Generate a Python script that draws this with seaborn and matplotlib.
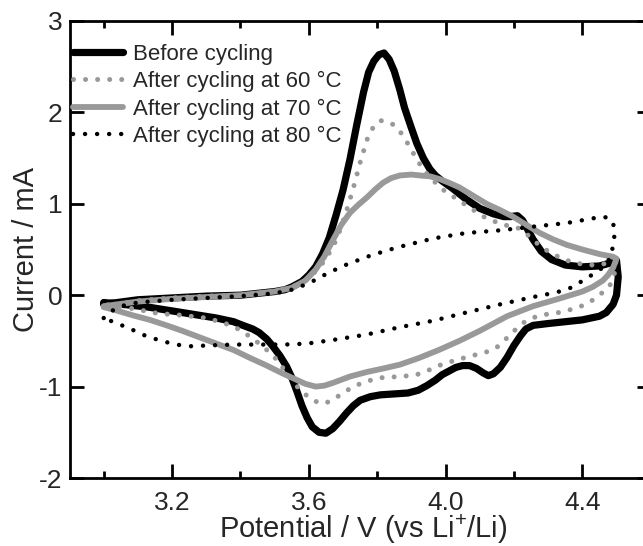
import numpy as np
import pandas as pd
import matplotlib
matplotlib.use("Agg")
import matplotlib.pyplot as plt
import seaborn as sns
from matplotlib.ticker import FixedLocator

sns.set_style("ticks")
plt.rcParams["font.family"] = ["Liberation Sans", "DejaVu Sans"]
plt.rcParams["mathtext.fontset"] = "custom"
plt.rcParams["mathtext.rm"] = "Liberation Sans"
plt.rcParams["mathtext.it"] = "Liberation Sans"

labels = ["Before cycling", "After cycling at 60 \u00b0C",
          "After cycling at 70 \u00b0C", "After cycling at 80 \u00b0C"]

# Before cycling (anodic sweep then cathodic sweep)
v_before = [3.00, 3.10, 3.20, 3.30, 3.40, 3.45, 3.50, 3.53, 3.55, 3.58, 3.60, 3.62, 3.64, 3.66,
            3.68, 3.70, 3.72, 3.74, 3.76, 3.775, 3.79, 3.805, 3.82, 3.835, 3.85, 3.866, 3.88, 3.90,
            3.916, 3.935, 3.954, 3.97, 3.99, 4.02, 4.06, 4.10, 4.14, 4.17, 4.19, 4.21, 4.225, 4.24,
            4.256, 4.28, 4.31, 4.35, 4.40, 4.45, 4.48, 4.50,
            4.505, 4.50, 4.49, 4.47, 4.45, 4.40, 4.35, 4.30, 4.256, 4.235, 4.22, 4.20, 4.18, 4.16,
            4.14, 4.125, 4.11, 4.09, 4.07, 4.05, 4.03, 4.01, 3.99, 3.97, 3.945, 3.92, 3.89, 3.85,
            3.81, 3.78, 3.75, 3.73, 3.71, 3.69, 3.67, 3.65, 3.63, 3.61, 3.595, 3.58, 3.565, 3.55,
            3.535, 3.515, 3.495, 3.477, 3.455, 3.436, 3.40, 3.38, 3.33, 3.28, 3.23, 3.18, 3.13,
            3.08, 3.00]
i_before = [-0.10, -0.05, -0.03, -0.01, 0.00, 0.02, 0.04, 0.06, 0.09, 0.15, 0.22, 0.31, 0.45, 0.63,
            0.88, 1.15, 1.48, 1.86, 2.22, 2.44, 2.56, 2.63, 2.65, 2.58, 2.45, 2.25, 2.05, 1.83,
            1.66, 1.50, 1.38, 1.31, 1.25, 1.17, 1.05, 0.95, 0.89, 0.86, 0.86, 0.87, 0.82, 0.72,
            0.61, 0.48, 0.39, 0.33, 0.31, 0.32, 0.35, 0.38,
            0.20, 0.00, -0.10, -0.19, -0.23, -0.27, -0.29, -0.31, -0.33, -0.37, -0.44, -0.55, -0.68, -0.79,
            -0.86, -0.88, -0.85, -0.80, -0.77, -0.77, -0.79, -0.83, -0.87, -0.93, -0.99, -1.04, -1.07, -1.08,
            -1.09, -1.11, -1.15, -1.21, -1.29, -1.38, -1.46, -1.51, -1.50, -1.44, -1.34, -1.21, -1.05, -0.90,
            -0.78, -0.66, -0.56, -0.48, -0.41, -0.37, -0.32, -0.29, -0.25, -0.22, -0.19, -0.16, -0.13,
            -0.11, -0.08]

# After cycling at 60 C
v_60 = [3.00, 3.10, 3.20, 3.30, 3.40, 3.50, 3.55, 3.58, 3.61, 3.64, 3.67, 3.69, 3.71, 3.73, 3.75,
        3.77, 3.79, 3.81, 3.83, 3.85, 3.865, 3.88, 3.90, 3.92, 3.94, 3.96, 3.99, 4.03, 4.07, 4.12,
        4.17, 4.21, 4.24, 4.27, 4.30, 4.34, 4.38, 4.43, 4.48, 4.50,
        4.495, 4.48, 4.45, 4.42, 4.385, 4.33, 4.276, 4.24, 4.217, 4.19, 4.165, 4.15, 4.13, 4.10,
        4.08, 4.03, 3.98, 3.945, 3.915, 3.87, 3.817, 3.77, 3.73, 3.70, 3.68, 3.65, 3.63, 3.61,
        3.58, 3.55, 3.525, 3.50, 3.466, 3.43, 3.40, 3.35, 3.30, 3.23, 3.16, 3.09, 3.02, 3.00]
i_60 = [-0.12, -0.06, -0.03, -0.01, 0.00, 0.04, 0.09, 0.14, 0.22, 0.35, 0.52, 0.70, 0.92, 1.17, 1.45,
        1.70, 1.85, 1.91, 1.90, 1.86, 1.80, 1.72, 1.59, 1.46, 1.35, 1.27, 1.16, 1.06, 0.96, 0.84,
        0.77, 0.74, 0.66, 0.56, 0.48, 0.40, 0.35, 0.33, 0.35, 0.36,
        0.25, 0.10, 0.00, -0.08, -0.14, -0.19, -0.22, -0.27, -0.33, -0.43, -0.52, -0.57, -0.61, -0.64,
        -0.66, -0.71, -0.77, -0.83, -0.87, -0.89, -0.90, -0.94, -1.00, -1.07, -1.12, -1.18, -1.18, -1.14,
        -1.06, -0.93, -0.80, -0.68, -0.56, -0.46, -0.38, -0.30, -0.25, -0.22, -0.20, -0.15, -0.11, -0.10]

# After cycling at 70 C
v_70 = [3.00, 3.10, 3.20, 3.30, 3.40, 3.50, 3.55, 3.59, 3.62, 3.645, 3.67, 3.695, 3.72, 3.745,
        3.77, 3.795, 3.817, 3.84, 3.866, 3.90, 3.925, 3.955, 3.983, 4.01, 4.04, 4.08, 4.12, 4.16,
        4.197, 4.236, 4.276, 4.315, 4.355, 4.40, 4.45, 4.49, 4.50,
        4.49, 4.475, 4.46, 4.43, 4.40, 4.33, 4.256, 4.18, 4.14, 4.10, 4.04, 3.98, 3.92, 3.866,
        3.82, 3.77, 3.72, 3.67, 3.645, 3.62, 3.59, 3.555, 3.52, 3.477, 3.43, 3.38, 3.33, 3.28,
        3.23, 3.184, 3.135, 3.085, 3.04, 3.00]
i_70 = [-0.12, -0.07, -0.04, -0.02, 0.00, 0.04, 0.08, 0.16, 0.28, 0.42, 0.60, 0.77, 0.90, 0.99,
        1.07, 1.16, 1.23, 1.28, 1.31, 1.32, 1.31, 1.30, 1.27, 1.23, 1.18, 1.09, 1.00, 0.93,
        0.86, 0.77, 0.68, 0.61, 0.55, 0.50, 0.45, 0.42, 0.40,
        0.30, 0.22, 0.16, 0.09, 0.04, -0.04, -0.12, -0.23, -0.31, -0.39, -0.50, -0.60, -0.69, -0.76,
        -0.80, -0.84, -0.89, -0.96, -0.99, -1.00, -0.97, -0.91, -0.85, -0.77, -0.69, -0.60, -0.53, -0.46,
        -0.39, -0.33, -0.27, -0.22, -0.17, -0.13]

# After cycling at 80 C
v_80 = [3.00, 3.02, 3.05, 3.10, 3.20, 3.30, 3.40, 3.50, 3.55, 3.60, 3.65, 3.70, 3.77, 3.82, 3.866,
        3.92, 3.963, 4.01, 4.06, 4.16, 4.256, 4.355, 4.40, 4.43, 4.46, 4.48, 4.49, 4.495, 4.49,
        4.485, 4.47, 4.44, 4.41, 4.38, 4.355, 4.31, 4.256, 4.16, 4.06, 3.963, 3.866, 3.77, 3.67,
        3.594, 3.53, 3.48, 3.38, 3.30, 3.26, 3.21, 3.16, 3.12, 3.085, 3.06, 3.04, 3.00]
i_80 = [-0.25, -0.18, -0.12, -0.08, -0.05, -0.03, -0.01, 0.02, 0.06, 0.13, 0.23, 0.32, 0.42, 0.48, 0.53,
        0.58, 0.62, 0.65, 0.68, 0.71, 0.75, 0.79, 0.82, 0.84, 0.86, 0.84, 0.79, 0.68, 0.55,
        0.45, 0.33, 0.25, 0.18, 0.11, 0.06, 0.02, -0.02, -0.10, -0.19, -0.28, -0.35, -0.43, -0.49,
        -0.53, -0.54, -0.54, -0.54, -0.55, -0.56, -0.54, -0.49, -0.44, -0.38, -0.34, -0.31, -0.25]

x_major = [3.2, 3.6, 4.0, 4.4]
x_major_labels = ["3.2", "3.6", "4.0", "4.4"]
x_minor = [3.0, 3.4, 3.8, 4.2]
y_ticks = [-2, -1, 0, 1, 2, 3]
y_tick_labels = ["-2", "-1", "0", "1", "2", "3"]

grey = "#999999"

fig = plt.figure(figsize=(6.43, 5.46), dpi=100)
ax = fig.add_axes([69.5 / 643, 68 / 546, 581.2 / 643, 457 / 546])

series = [
    (v_before, i_before, labels[0], dict(color="black", lw=5.2, ls="-", solid_capstyle="round",
                                          solid_joinstyle="round")),
    (v_60, i_60, labels[1], dict(color=grey, lw=3.6, ls=(0, (0.01, 2.4)), dash_capstyle="round")),
    (v_70, i_70, labels[2], dict(color=grey, lw=4.2, ls="-", solid_capstyle="round",
                                 solid_joinstyle="round")),
    (v_80, i_80, labels[3], dict(color="black", lw=3.2, ls=(0, (0.01, 2.7)), dash_capstyle="round")),
]
for v, i, lab, kw in series:
    df = pd.DataFrame({"v": v, "i": i})
    sns.lineplot(data=df, x="v", y="i", sort=False, estimator=None, label=lab, ax=ax, **kw)

ax.set_xlim(2.9, 4.6)
ax.set_ylim(-2, 3)
ax.set_xticks(x_major)
ax.set_xticklabels(x_major_labels)
ax.xaxis.set_minor_locator(FixedLocator(x_minor))
ax.set_yticks(y_ticks)
ax.set_yticklabels(y_tick_labels)

ax.tick_params(which="both", direction="in", top=True, right=True, width=2.0, color="black")
ax.tick_params(which="major", length=10, labelsize=19)
ax.tick_params(which="minor", length=5)
ax.tick_params(axis="x", pad=9)
ax.tick_params(axis="y", pad=5)
for s in ax.spines.values():
    s.set_linewidth(2.0)
    s.set_color("black")

ax.set_xlabel("Potential / V (vs Li$^{+}$/Li)", fontsize=21)
ax.xaxis.set_label_coords(0.506, -0.075)
ax.set_ylabel("Current / mA", fontsize=21, labelpad=-1)

leg = ax.legend(loc="upper left", bbox_to_anchor=(-0.006, 0.9645), frameon=False, fontsize=16,
                handlelength=2.25, handletextpad=0.45, labelspacing=0.28, borderaxespad=0.0,
                borderpad=0.3)

fig.savefig("out.png", dpi=100)
